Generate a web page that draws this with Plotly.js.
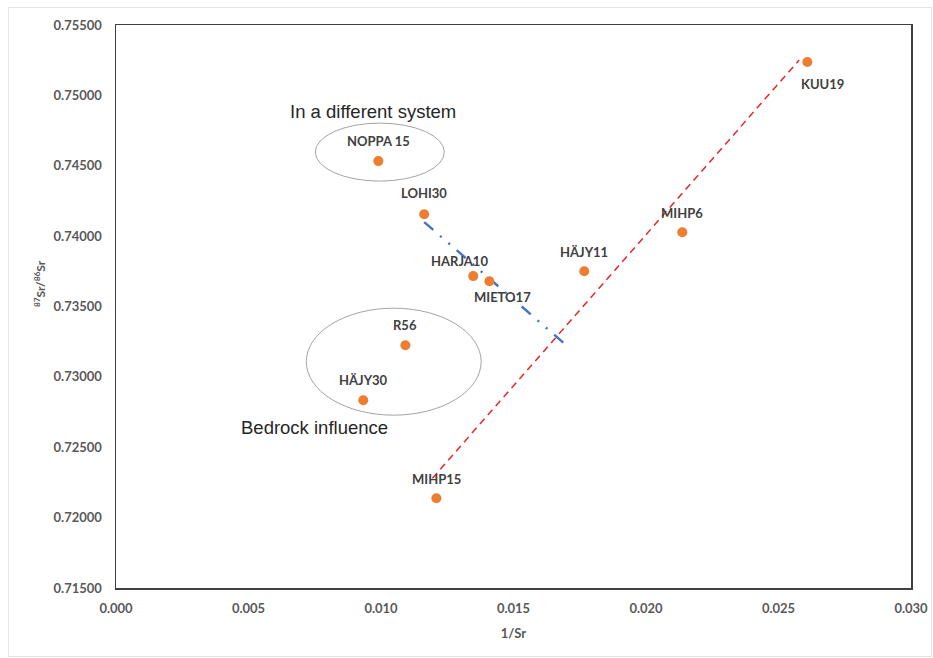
<!DOCTYPE html>
<html>
<head>
<meta charset="utf-8">
<script src="https://cdn.plot.ly/plotly-3.0.1.min.js"></script>
<style>
  html, body { margin: 0; padding: 0; background: #fff; }
  #wrap { position: relative; width: 933px; height: 658px; }
  #chart { width: 933px; height: 658px; }
  #frame { position: absolute; left: 8px; top: 7px; width: 922px; height: 648px; border: 1px solid #e3e3e3; pointer-events: none; }
</style>
</head>
<body>
<div id="wrap"><div id="chart"></div><div id="frame"></div></div>
<script>
// Sample data
const sampleNames = ["NOPPA 15", "LOHI30", "HARJA10", "MIETO17", "HÄJY11", "MIHP6", "KUU19", "R56", "HÄJY30", "MIHP15"];
const invSr = [0.00990, 0.01163, 0.01348, 0.01409, 0.01767, 0.02137, 0.02609, 0.01092, 0.00933, 0.01209];
const srRatio = [0.74533, 0.74156, 0.73716, 0.73680, 0.73751, 0.74028, 0.75237, 0.73225, 0.72834, 0.72138];

// Trend lines
const redLineX = [0.01194, 0.02578];
const redLineY = [0.72280, 0.75251];
const blueLineX = [0.01163, 0.01695];
const blueLineY = [0.74100, 0.73232];

// Grouping ellipses (data bounds)
const ellipseDiff = {x0: 0.00752, x1: 0.01239, y0: 0.74391, y1: 0.74803};
const ellipseBedrock = {x0: 0.00718, x1: 0.01378, y0: 0.72728, y1: 0.73488};

// Group captions
const groupTexts = ["In a different system", "Bedrock influence"];
const groupX = [0.00971, 0.00748];
const groupY = [0.74882, 0.72642];

// Axis ticks
const xTicks = [0.000, 0.005, 0.010, 0.015, 0.020, 0.025, 0.030];
const xTickText = ["0.000", "0.005", "0.010", "0.015", "0.020", "0.025", "0.030"];
const yTicks = [0.715, 0.720, 0.725, 0.730, 0.735, 0.740, 0.745, 0.750, 0.755];
const yTickText = ["0.71500", "0.72000", "0.72500", "0.73000", "0.73500", "0.74000", "0.74500", "0.75000", "0.75500"];

// Label offsets in pixels (style only)
const labelOffsets = {
  "NOPPA 15": [0, 20], "LOHI30": [0, 21], "HARJA10": [-14, 15], "MIETO17": [13, -16],
  "HÄJY11": [0, 19], "MIHP6": [0, 19], "KUU19": [15, -22], "R56": [0, 20],
  "HÄJY30": [0, 20], "MIHP15": [0, 19]
};

const labelFont = {family: "Lato, 'Open Sans', sans-serif", size: 13, color: "#404040", weight: 700};
const tickFont = {family: "Lato, 'Open Sans', sans-serif", size: 13, color: "#595959", weight: 700};

const traces = [
  {
    x: redLineX, y: redLineY, type: "scatter", mode: "lines",
    line: {color: "#e8262a", width: 1.5, dash: "7px,5px"}, hoverinfo: "skip", showlegend: false
  },
  {
    x: blueLineX, y: blueLineY, type: "scatter", mode: "lines",
    line: {color: "#4472c4", width: 2.4, dash: "12px,9px,2px,9px,2px,9px"}, hoverinfo: "skip", showlegend: false
  },
  {
    x: invSr, y: srRatio, type: "scatter", mode: "markers",
    marker: {color: "#ed7d31", size: 10}, text: sampleNames, showlegend: false
  }
];

const annotations = sampleNames.map((n, i) => ({
  x: invSr[i], y: srRatio[i], xref: "x", yref: "y", text: n, showarrow: false,
  xshift: labelOffsets[n][0], yshift: labelOffsets[n][1], font: labelFont
}));
groupTexts.forEach((t, i) => annotations.push({
  x: groupX[i], y: groupY[i], xref: "x", yref: "y", text: t, showarrow: false,
  font: {family: "'Liberation Sans', Arial, sans-serif", size: 18.5, color: "#262626"}
}));
annotations.push({
  x: -0.108, y: 0.54, xref: "paper", yref: "paper", text: "<sup>87</sup>Sr/<sup>86</sup>Sr",
  textangle: -90, showarrow: false, font: {family: "Lato, 'Open Sans', sans-serif", size: 12, color: "#595959", weight: 700}
});

const ellipseStyle = {color: "#8c8c8c", width: 0.8};
const shapes = [ellipseDiff, ellipseBedrock].map(e => ({
  type: "circle", xref: "x", yref: "y", x0: e.x0, x1: e.x1, y0: e.y0, y1: e.y1,
  line: ellipseStyle, fillcolor: "rgba(0,0,0,0)", layer: "below"
}));

const layout = {
  width: 933, height: 658,
  margin: {l: 116, r: 22, t: 25, b: 70},
  paper_bgcolor: "#ffffff", plot_bgcolor: "#ffffff",
  showlegend: false,
  xaxis: {
    range: [0, 0.030], tickvals: xTicks, ticktext: xTickText, showgrid: false, zeroline: false,
    showline: true, mirror: true, linecolor: "#404040", linewidth: 1.5, ticks: "",
    tickfont: tickFont, ticklabelstandoff: 8,
    title: {text: "1/Sr", font: tickFont, standoff: 14}
  },
  yaxis: {
    range: [0.715, 0.755], tickvals: yTicks, ticktext: yTickText, showgrid: false, zeroline: false,
    showline: true, mirror: true, linecolor: "#404040", linewidth: 1.5, ticks: "",
    tickfont: tickFont, ticklabelstandoff: 10
  },
  shapes: shapes,
  annotations: annotations
};

Plotly.newPlot("chart", traces, layout, {displayModeBar: false, staticPlot: true});
</script>
</body>
</html>
